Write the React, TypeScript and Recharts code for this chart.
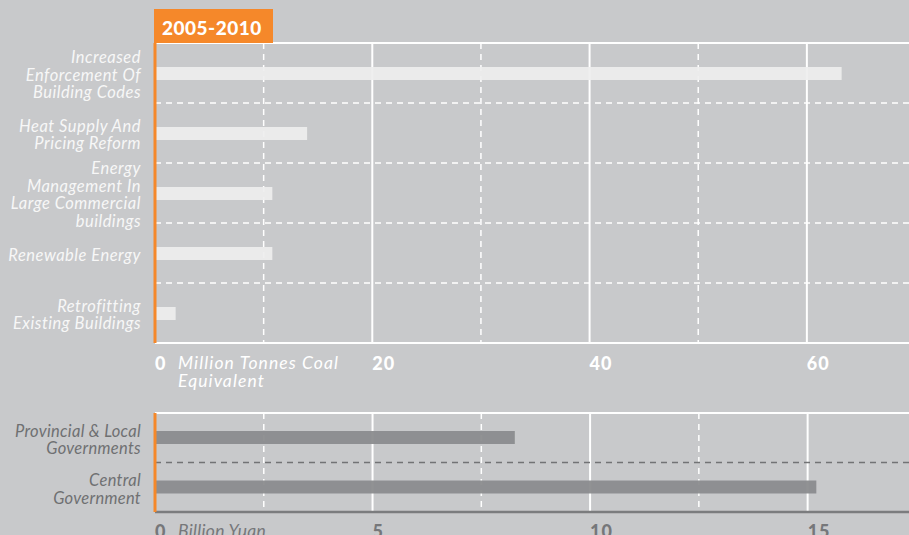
import React from 'react';
import { BarChart, Bar, XAxis, YAxis, CartesianGrid } from 'recharts';

const savingCategories = [
  'Increased\nEnforcement Of\nBuilding Codes',
  'Heat Supply And\nPricing Reform',
  'Energy\nManagement In\nLarge Commercial\nbuildings',
  'Renewable Energy',
  'Retrofitting\nExisting Buildings',
];
const savingValues = [63.2, 14.0, 10.8, 10.8, 1.9];
const savingTicks = [0, 20, 40, 60];
const savingMinorTicks = [10, 30, 50];

const fundingCategories = ['Provincial & Local\nGovernments', 'Central\nGovernment'];
const fundingValues = [8.27, 15.2];
const fundingTicks = [0, 5, 10, 15];
const fundingMinorTicks = [2.5, 7.5, 12.5];

const BG = '#c8c9cb';
const ORANGE = '#f5882a';
const FONT = 'Lato, "Open Sans", sans-serif';

const savingData = savingCategories.map((name, i) => ({ name, value: savingValues[i] }));
const fundingData = fundingCategories.map((name, i) => ({ name, value: fundingValues[i] }));

// lines between category rows, from the plot offset the chart hands us
const betweenRows = (n: number) => ({ offset }: any) =>
  Array.from({ length: n - 1 }, (_, i) => offset.top + ((i + 1) * offset.height) / n);
const plotTop = ({ offset }: any) => [offset.top];

function CategoryTick({ x, y, payload, color, lineH, fontSize, spacing }: any) {
  const lines = String(payload.value).split('\n');
  const top = y - ((lines.length - 1) * lineH) / 2 + 1.5;
  return (
    <g>
      {lines.map((l, i) => (
        <text
          key={i}
          x={x - 12}
          y={top + i * lineH}
          textAnchor="end"
          dominantBaseline="central"
          fill={color}
          fontFamily={FONT}
          fontStyle="italic"
          fontSize={fontSize}
          letterSpacing={spacing}
        >
          {l}
        </text>
      ))}
    </g>
  );
}

function ValueTick({ x, y, payload, color, unit, dy, unitSpacing }: any) {
  const unitLines: string[] = payload.value === 0 ? unit : [];
  return (
    <g>
      <text x={x} y={y + dy} dominantBaseline="central" fill={color} fontFamily={FONT} fontWeight={900} fontSize={18} letterSpacing={1}>
        {payload.value}
      </text>
      {unitLines.map((l, i) => (
        <text
          key={i}
          x={x + 23}
          y={y + dy + i * 18}
          dominantBaseline="central"
          fill={color}
          fontFamily={FONT}
          fontStyle="italic"
          fontSize={17.5}
          letterSpacing={unitSpacing}
        >
          {l}
        </text>
      ))}
    </g>
  );
}

export default function App() {
  return (
    <div style={{ position: 'absolute', left: 0, top: 0, width: 909, height: 535, overflow: 'hidden', background: BG }}>
      <div style={{ position: 'absolute', left: 0, top: 0 }}>
        <BarChart width={909} height={400} data={savingData} layout="vertical" margin={{ top: 43, right: 0, bottom: 0, left: 0 }}>
          <CartesianGrid horizontal={false} verticalValues={savingMinorTicks} stroke="#ffffff" strokeWidth={1.5} strokeDasharray="6 5" />
          <CartesianGrid horizontal={false} verticalValues={savingTicks} stroke="#ffffff" strokeWidth={2} />
          <CartesianGrid vertical={false} horizontalCoordinatesGenerator={betweenRows(savingCategories.length)} stroke="#ffffff" strokeWidth={1.5} strokeDasharray="6 5" />
          <CartesianGrid vertical={false} horizontalCoordinatesGenerator={plotTop} stroke="#ffffff" strokeWidth={2} />
          <XAxis
            type="number"
            domain={[0, 69.4]}
            ticks={savingTicks}
            allowDataOverflow
            height={57}
            tickSize={0}
            tickLine={false}
            axisLine={{ stroke: '#ffffff', strokeWidth: 2 }}
            tick={<ValueTick color="#ffffff" unit={['Million Tonnes Coal', 'Equivalent']} dy={17.5} unitSpacing={1.1} />}
          />
          <YAxis
            type="category"
            dataKey="name"
            width={155}
            tickSize={0}
            tickLine={false}
            axisLine={{ stroke: ORANGE, strokeWidth: 3 }}
            interval={0}
            tick={<CategoryTick color="#f7f7f7" lineH={17.5} fontSize={16.5} spacing={0.5} />}
          />
          <Bar dataKey="value" fill="#eeeeee" fillOpacity={0.92} barSize={13} isAnimationActive={false} />
        </BarChart>
      </div>
      <div style={{ position: 'absolute', left: 154, top: 9, width: 119, height: 34, background: ORANGE, color: '#fff', fontFamily: FONT, fontWeight: 900, fontSize: 19, lineHeight: '38px', paddingLeft: 8, boxSizing: 'border-box', letterSpacing: 0.5 }}>
        2005-2010
      </div>
      <div style={{ position: 'absolute', left: 0, top: 370 }}>
        <BarChart width={909} height={165} data={fundingData} layout="vertical" margin={{ top: 43, right: 0, bottom: 0, left: 0 }}>
          <CartesianGrid horizontal={false} verticalValues={fundingMinorTicks} stroke="#ffffff" strokeWidth={1.5} strokeDasharray="6 5" />
          <CartesianGrid horizontal={false} verticalValues={fundingTicks} stroke="#ffffff" strokeWidth={2} />
          <CartesianGrid vertical={false} horizontalCoordinatesGenerator={betweenRows(fundingCategories.length)} stroke="#727375" strokeWidth={1.5} strokeDasharray="6 5" />
          <CartesianGrid vertical={false} horizontalCoordinatesGenerator={plotTop} stroke="#ffffff" strokeWidth={2} />
          <XAxis
            type="number"
            domain={[0, 17.33]}
            ticks={fundingTicks}
            allowDataOverflow
            height={23}
            tickSize={0}
            tickLine={false}
            axisLine={{ stroke: '#7b7c7e', strokeWidth: 2.5 }}
            tick={<ValueTick color="#76777a" unit={['Billion Yuan']} dy={16.5} unitSpacing={0.3} />}
          />
          <YAxis
            type="category"
            dataKey="name"
            width={155}
            tickSize={0}
            tickLine={false}
            axisLine={{ stroke: ORANGE, strokeWidth: 3 }}
            interval={0}
            tick={<CategoryTick color="#6f7072" lineH={17.5} fontSize={16.5} spacing={0.3} />}
          />
          <Bar dataKey="value" fill="#8b8c8e" fillOpacity={0.95} barSize={13} isAnimationActive={false} />
        </BarChart>
      </div>
    </div>
  );
}
